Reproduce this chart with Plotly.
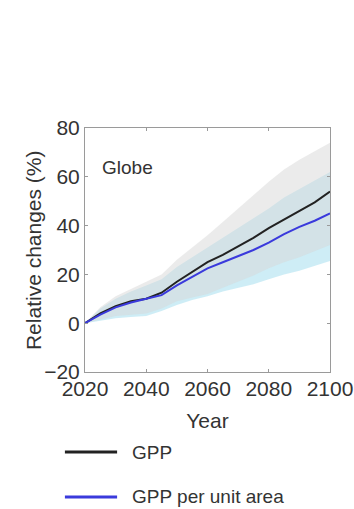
import plotly.graph_objects as go

years = [2020, 2025, 2030, 2035, 2040, 2045, 2050, 2055, 2060, 2065, 2070, 2075, 2080, 2085, 2090, 2095, 2100]

gpp = [0, 4, 7, 9, 10, 12.5, 17, 21, 25, 28, 31.5, 35, 39, 42.5, 46, 49.5, 54]
gpp_lo = [0, 1.5, 3, 3.5, 4, 6, 9, 10.5, 12, 14.5, 17, 19.5, 22.5, 25, 27, 29.5, 32]
gpp_hi = [0, 6.5, 11, 14, 17, 20, 26, 31, 36, 41.5, 47, 52.5, 58, 63, 67, 70.5, 74]

per_area = [0, 3.5, 6.5, 8.5, 10, 11.5, 15.5, 19, 22.5, 25, 27.5, 30, 33, 36.5, 39.5, 42, 45]
per_area_lo = [0, 1, 2, 2.5, 3, 5, 7.5, 9.5, 11, 13, 14.5, 16, 18, 20, 21.5, 23.5, 25.5]
per_area_hi = [0, 6, 10, 13, 15.5, 18, 23, 27, 31, 35, 39, 43, 47, 51.5, 55, 58.5, 62]

series_names = ["GPP", "GPP per unit area"]
series_colors = ["#222222", "#3a3adc"]

FONT = "Liberation Sans, Arial, sans-serif"
TEXT = "#333333"

fig = go.Figure()

# uncertainty ranges
fig.add_trace(go.Scatter(x=years, y=per_area_hi, mode="lines", line=dict(width=0),
                         showlegend=False, hoverinfo="skip"))
fig.add_trace(go.Scatter(x=years, y=per_area_lo, mode="lines", line=dict(width=0),
                         fill="tonexty", fillcolor="rgba(185,230,242,0.7)",
                         showlegend=False, hoverinfo="skip"))
fig.add_trace(go.Scatter(x=years, y=gpp_hi, mode="lines", line=dict(width=0),
                         showlegend=False, hoverinfo="skip"))
fig.add_trace(go.Scatter(x=years, y=gpp_lo, mode="lines", line=dict(width=0),
                         fill="tonexty", fillcolor="rgba(215,215,215,0.5)",
                         showlegend=False, hoverinfo="skip"))

# central estimates
fig.add_trace(go.Scatter(x=years, y=gpp, mode="lines", name=series_names[0],
                         line=dict(color=series_colors[0], width=2), showlegend=False))
fig.add_trace(go.Scatter(x=years, y=per_area, mode="lines", name=series_names[1],
                         line=dict(color=series_colors[1], width=2), showlegend=False))

axis_common = dict(showline=True, linecolor="#9a9a9a", linewidth=1, mirror="ticks",
                   ticks="inside", ticklen=3, tickcolor="#9a9a9a",
                   showgrid=False, zeroline=False, automargin=False,
                   tickfont=dict(family=FONT, size=21, color=TEXT))

fig.update_xaxes(range=[2020, 2100], tickvals=[2020, 2040, 2060, 2080, 2100],
                 ticklabelstandoff=-2,
                 title=dict(text="Year", standoff=14, font=dict(family=FONT, size=21, color=TEXT)),
                 **axis_common)
fig.update_yaxes(range=[-20, 80], tickvals=[-20, 0, 20, 40, 60, 80], **axis_common)

# y-axis title
fig.add_annotation(x=-0.212, y=0.5, xref="paper", yref="paper", text="Relative changes (%)",
                   textangle=-90, showarrow=False, xanchor="center", yanchor="middle",
                   font=dict(family=FONT, size=21, color=TEXT))

fig.add_annotation(x=0.06, y=0.84, xref="paper", yref="paper", text="Globe", showarrow=False,
                   xanchor="left", yanchor="middle",
                   font=dict(family=FONT, size=19, color=TEXT))

# key below the axes
key_y = [-0.328, -0.512]
for name, color, ky in zip(series_names, series_colors, key_y):
    fig.add_shape(type="line", xref="paper", yref="paper", x0=-0.082, x1=0.131, y0=ky, y1=ky,
                  line=dict(color=color, width=3))
    fig.add_annotation(x=0.185, y=ky, xref="paper", yref="paper", text=name, showarrow=False,
                       xanchor="left", yanchor="middle",
                       font=dict(family=FONT, size=19, color=TEXT))

fig.update_layout(
    width=354, height=509,
    margin=dict(l=85, r=24, t=128, b=137),
    paper_bgcolor="white", plot_bgcolor="white",
    showlegend=False,
)

fig.write_html("out.html")
